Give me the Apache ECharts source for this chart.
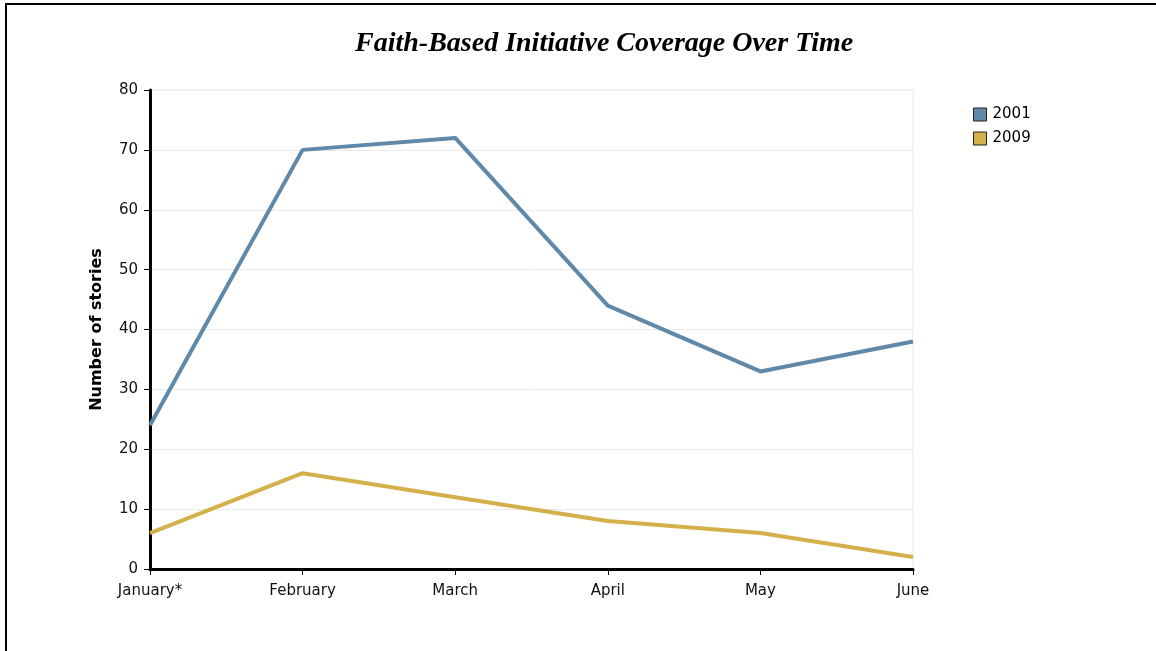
<!DOCTYPE html>
<html>
<head>
<meta charset="utf-8">
<script src="https://cdn.jsdelivr.net/npm/echarts@6/dist/echarts.min.js"></script>
<style>
  html, body { margin: 0; padding: 0; background: #fff; }
  #frame { position: absolute; left: 5px; top: 3px; width: 1151px; height: 648px;
           border-left: 2px solid #000; border-top: 2px solid #000; box-sizing: border-box; }
  #myChart { position: absolute; left: 0; top: 0; width: 1156px; height: 651px; }
</style>
</head>
<body>
<div id="frame"></div>
<div id="myChart"></div>
<script>
// categories
const months = ['January*', 'February', 'March', 'April', 'May', 'June']
// series
const stories2001 = [24, 70, 72, 44, 33, 38]
const stories2009 = [6, 16, 12, 8, 6, 2]

const blue = '#5f88a9'
const gold = '#d4b04a'
const sans = 'DejaVu Sans, Verdana, sans-serif'

let option = {
  animation: false,
  title: {
    text: 'Faith-Based Initiative Coverage Over Time',
    left: 350,
    top: 25,
    textStyle: {
      fontFamily: 'Liberation Serif, Times New Roman, serif',
      fontStyle: 'italic',
      fontWeight: 'bold',
      fontSize: 28,
      color: '#000'
    }
  },
  legend: {
    orient: 'vertical',
    left: 968,
    top: 102,
    itemWidth: 13,
    itemHeight: 13,
    itemGap: 9,
    icon: 'rect',
    textStyle: { fontFamily: sans, fontSize: 15, color: '#000', padding: [0, 0, 0, 1] },
    data: [
      { name: '2001', itemStyle: { color: blue, borderColor: '#222', borderWidth: 1 } },
      { name: '2009', itemStyle: { color: gold, borderColor: '#222', borderWidth: 1 } }
    ]
  },
  grid: {
    left: 150,
    right: 243,
    top: 90,
    bottom: 82,
    show: true,
    borderColor: '#e8e8e8',
    borderWidth: 1
  },
  xAxis: {
    type: 'category',
    boundaryGap: false,
    data: months,
    axisLine: { lineStyle: { color: '#000', width: 3 } },
    axisTick: { show: true, length: 6, alignWithLabel: true, lineStyle: { color: '#000', width: 1 } },
    axisLabel: { color: '#111', fontFamily: sans, fontSize: 15, margin: 15 },
    splitLine: { show: false }
  },
  yAxis: {
    type: 'value',
    min: 0,
    max: 80,
    interval: 10,
    name: 'Number of stories',
    nameLocation: 'middle',
    nameRotate: 90,
    nameGap: 45,
    nameTextStyle: { fontFamily: sans, fontSize: 16, fontWeight: 'bold', color: '#000' },
    axisLine: { show: true, lineStyle: { color: '#000', width: 3 } },
    axisTick: { show: true, length: 6, lineStyle: { color: '#000', width: 1 } },
    axisLabel: { color: '#111', fontFamily: sans, fontSize: 15, margin: 12 },
    splitLine: { show: true, lineStyle: { color: '#ebebeb', width: 1 } }
  },
  series: [
    {
      name: '2001',
      type: 'line',
      data: stories2001,
      color: blue,
      symbol: 'none',
      lineStyle: { width: 4, color: blue },
      z: 3
    },
    {
      name: '2009',
      type: 'line',
      data: stories2009,
      color: gold,
      symbol: 'none',
      lineStyle: { width: 4, color: gold },
      z: 3
    }
  ]
}

const myChart = echarts.init(document.getElementById('myChart'))
myChart.setOption(option)
</script>
</body>
</html>
